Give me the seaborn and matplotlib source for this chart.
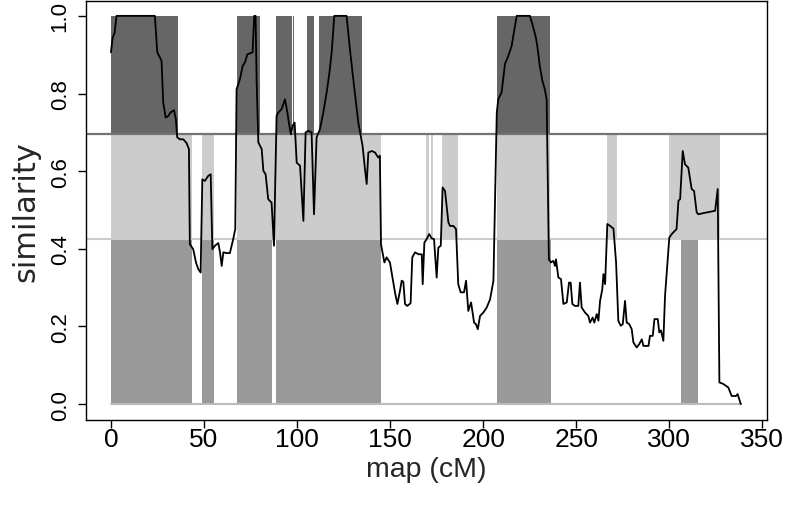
import numpy as np
import pandas as pd
import seaborn as sns
import matplotlib.pyplot as plt

sns.set_theme(style="white")
plt.rcParams["font.family"] = ["Liberation Sans", "DejaVu Sans"]

# similarity trace along the map (cM)
map_cm = [
    0, 0.9, 2, 3, 23.6, 24.9, 26.3, 27.2, 28.1, 29.4, 30.8, 32, 33.9, 34.9, 35.6,
    37.1, 38.9, 40.7, 41.9, 42.4, 44.2, 45.7, 46.9, 48.2, 49.1, 50.5, 52.3, 53.6,
    54.5, 55.9, 57.7, 58.6, 59.5, 60.4, 62.2, 63.9, 65.7, 66.8, 67.5, 69.3, 70.8,
    72, 73.3, 76.1, 77.0, 77.7, 78.3, 79.2, 81, 81.9, 83.1, 84.5, 86.3, 87.6, 89,
    89.9, 91.7, 93.5, 94.8, 95.6, 96.7, 97.6, 98.7, 99.8, 101.6, 103.4, 104.6,
    106, 107.8, 109.1, 110.5, 112.3, 114.1, 115.9, 117.3, 118.6, 120, 126.6,
    128.4, 130.6, 132.9, 135.2, 136.5, 137.4, 138.3, 140.1, 141.9, 143.6, 144.5,
    145.1, 146.9, 148.1, 149.9, 151.4, 152.6, 153.9, 155.3, 156.2, 157.1, 158,
    159.2, 161.0, 161.9, 163.4, 165.2, 167, 167.5, 168.4, 169.6, 171.0, 172.3,
    173.6, 175, 175.9, 177.2, 178.2, 179.5, 181.3, 182.2, 184.0, 185.4, 186.6,
    187.9, 189.7, 190.8, 192, 193.5, 195.1, 196.1, 197.1, 198.3, 200.1, 201.9,
    203.7, 205.5, 207.3, 208.1, 209.9, 211.7, 213.5, 215.3, 216.5, 218, 225.1,
    226.9, 228.3, 229.2, 230.4, 231.8, 233.1, 234.1, 235.3, 236.4, 237.7, 238.6,
    239.1, 240.4, 241.8, 243.1, 244.9, 246.1, 247.0, 247.9, 249.3, 251.1, 252.0,
    252.9, 254.7, 256.5, 257.4, 258.8, 259.7, 261, 261.9, 262.8, 264.0, 264.6,
    265.5, 266.7, 268.2, 270.0, 271.4, 272.6, 273.9, 275.0, 276.2, 277.1, 278.5,
    279.8, 280.7, 282.5, 283.9, 285.2, 286.1, 288.8, 289.6, 291.1, 292, 293.8,
    294.6, 295.5, 296.8, 297.7, 300.0, 301.3, 303.9, 304.9, 305.8, 307.2, 308.4,
    310.2, 312.0, 313.3, 314.7, 315.6, 318.3, 324.6, 326.0, 326.9, 329.0, 331.7,
    333.5, 335.8, 336.7, 338.4,
]
similarity = [
    0.906, 0.943, 0.957, 1.0, 1.0, 0.906, 0.893, 0.884, 0.777, 0.738, 0.742, 0.751,
    0.757, 0.734, 0.687, 0.682, 0.682, 0.672, 0.657, 0.412, 0.399, 0.365, 0.348,
    0.339, 0.579, 0.575, 0.588, 0.592, 0.399, 0.408, 0.415, 0.391, 0.356, 0.391,
    0.389, 0.389, 0.425, 0.451, 0.811, 0.837, 0.871, 0.88, 0.901, 0.906, 1.0, 1.0,
    0.828, 0.674, 0.657, 0.601, 0.592, 0.528, 0.519, 0.408, 0.742, 0.751, 0.760,
    0.785, 0.751, 0.725, 0.695, 0.717, 0.725, 0.622, 0.614, 0.472, 0.700, 0.704,
    0.700, 0.489, 0.687, 0.708, 0.751, 0.803, 0.850, 0.906, 1.0, 1.0, 0.914, 0.820,
    0.725, 0.665, 0.605, 0.567, 0.648, 0.652, 0.648, 0.635, 0.640, 0.412, 0.365,
    0.378, 0.365, 0.322, 0.288, 0.258, 0.292, 0.318, 0.315, 0.258, 0.253, 0.260,
    0.378, 0.391, 0.386, 0.386, 0.309, 0.416, 0.425, 0.438, 0.427, 0.425, 0.326,
    0.403, 0.408, 0.558, 0.549, 0.468, 0.459, 0.459, 0.451, 0.309, 0.288, 0.288,
    0.318, 0.240, 0.262, 0.210, 0.206, 0.193, 0.227, 0.236, 0.249, 0.270, 0.318,
    0.751, 0.785, 0.803, 0.876, 0.897, 0.923, 0.957, 1.0, 1.0, 0.970, 0.944, 0.918,
    0.871, 0.833, 0.811, 0.785, 0.373, 0.365, 0.369, 0.356, 0.373, 0.326, 0.322,
    0.258, 0.262, 0.313, 0.313, 0.258, 0.253, 0.253, 0.313, 0.249, 0.236, 0.227,
    0.210, 0.223, 0.210, 0.232, 0.215, 0.266, 0.296, 0.335, 0.309, 0.464, 0.459,
    0.452, 0.365, 0.215, 0.202, 0.206, 0.266, 0.210, 0.206, 0.193, 0.159, 0.146,
    0.155, 0.167, 0.150, 0.150, 0.176, 0.176, 0.219, 0.219, 0.185, 0.190, 0.163,
    0.279, 0.429, 0.438, 0.451, 0.524, 0.528, 0.652, 0.618, 0.609, 0.554, 0.549,
    0.494, 0.489, 0.492, 0.498, 0.554, 0.056, 0.052, 0.043, 0.021, 0.021, 0.026,
    0.0,
]

upper_cut = 0.695
lower_cut = 0.425

# regions above the upper cut (dark), middle band (light), lower band (medium)
high_start = [0, 67.5, 88.7, 97.7, 105.1, 112.0, 207.3]
high_end = [35.8, 80.1, 97.3, 98.3, 109.2, 135.0, 235.9]
mid_start = [0, 48.7, 67.5, 169.1, 171.8, 178.0, 207.3, 266.3, 299.8]
mid_end = [43.3, 55.3, 145.1, 171.0, 173.2, 186.7, 235.9, 271.7, 327.3]
low_start = [0, 48.7, 67.5, 88.7, 207.3, 306.1]
low_end = [43.3, 55.3, 86.3, 145.1, 236.5, 315.6]

x_ticks = [0, 50, 100, 150, 200, 250, 300, 350]
y_ticks = [0.0, 0.2, 0.4, 0.6, 0.8, 1.0]

fig = plt.figure(figsize=(7.86, 5.06), dpi=100)
ax = fig.add_axes([0.1094, 0.1686, 0.866, 0.828])


def bands(starts, ends, bottom, top, color):
    s = np.array(starts)
    e = np.array(ends)
    ax.bar(s, top - bottom, width=e - s, bottom=bottom, align="edge",
           color=color, linewidth=0, zorder=1)


bands(low_start, low_end, 0.0, lower_cut, "#999999")
bands(mid_start, mid_end, lower_cut, upper_cut, "#cccccc")
bands(high_start, high_end, upper_cut, 1.0, "#666666")

ax.axhline(upper_cut, color="#737373", linewidth=1.6, zorder=2)
ax.axhline(lower_cut, color="#cccccc", linewidth=1.5, zorder=2)
ax.plot([0, max(map_cm)], [0, 0], color="#bbbbbb", linewidth=1.5, zorder=2)

df = pd.DataFrame({"map": map_cm, "similarity": similarity})
sns.lineplot(data=df, x="map", y="similarity", color="black", linewidth=1.3,
             sort=False, estimator=None, ax=ax, zorder=3)

ax.set_xlim(-13.4, 352.3)
ax.set_ylim(-0.04, 1.039)
ax.set_xticks(x_ticks)
ax.set_xticklabels([str(t) for t in x_ticks], fontsize=19)
ax.set_yticks(y_ticks)
ax.set_yticklabels([f"{t:.1f}" for t in y_ticks], fontsize=16, rotation=90,
                   va="center")
ax.tick_params(axis="both", direction="out", length=6, width=1, color="black",
               labelcolor="black", bottom=True, left=True)
ax.tick_params(axis="x", pad=-1)
ax.tick_params(axis="y", pad=5)
for sp in ax.spines.values():
    sp.set_color("black")
    sp.set_linewidth(1.0)
ax.set_xlabel("map (cM)", fontsize=20.5, labelpad=4)
ax.set_ylabel("similarity", family=["DejaVu Sans"], fontsize=22, labelpad=7)

fig.savefig("out.png", dpi=100)
